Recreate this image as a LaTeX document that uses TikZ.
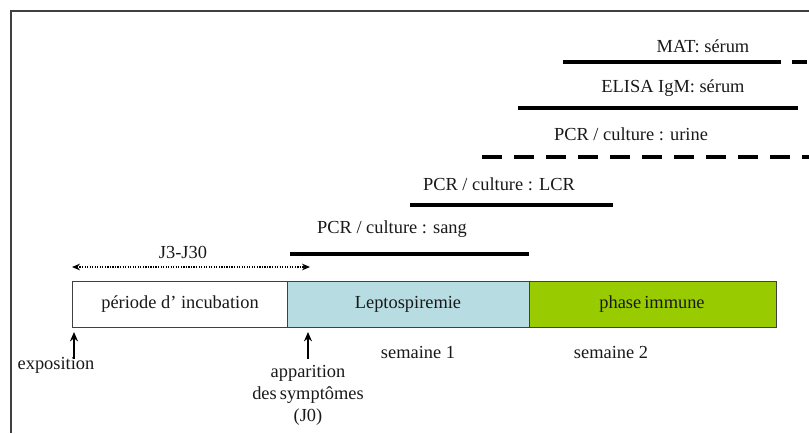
\documentclass[tikz,border=0pt]{standalone}
\usepackage{fontspec}
\setmainfont{Liberation Serif}
\usetikzlibrary{arrows.meta}
\definecolor{lepto}{HTML}{B7DDE3}
\definecolor{immune}{HTML}{99CC00}
\definecolor{edge}{HTML}{404040}
\tikzset{
  lbl/.style={font=\fontsize{13.8}{15}\selectfont, inner sep=0pt, text=black!90},
  phasebox/.style={draw=edge, line width=1pt, minimum height=34.5pt, inner sep=0pt},
  bar/.style={line width=2.3pt, black},
  dashbar/.style={line width=2.3pt, black, dash pattern=on 15pt off 9pt},
  uparrow/.style={line width=1.8pt, -{Stealth[length=7pt,width=6pt]}},
}
\begin{document}
\begin{tikzpicture}[x=0.75pt,y=-0.75pt]
\useasboundingbox (0,0) rectangle (809,433);
% frame
\draw[edge, line width=1.6pt] (11,433) -- (11,11) -- (809,11);
% phase boxes
\node[phasebox, fill=white, minimum width=161.25pt, anchor=north west] (inc) at (72,281) {};
\node[phasebox, fill=lepto, minimum width=181.5pt, anchor=north west] (lep) at (287,281) {};
\node[phasebox, fill=immune, minimum width=185.25pt, anchor=north west] (imm) at (529,281) {};
\node[lbl] (tinc) at (180,304) {période d’ incubation};
\node[lbl] (tlep) at (408,304) {Leptospiremie};
\node[lbl] (timm) at (652,304) {phase\,immune};
% J3-J30
\coordinate (j3a) at (72,267);
\coordinate (j3b) at (310,267);
\draw[densely dotted, line width=0.9pt, {Stealth[length=6pt,width=5pt]}-{Stealth[length=6pt,width=5pt]}] (j3a) -- (j3b);
\node[lbl] (tj3) at (183,252) {J3-J30};
% bars
\coordinate (s1) at (290,254); \coordinate (s2) at (529,254);
\draw[bar] (s1) -- (s2);
\node[lbl] (tsang) at (392,229) {PCR / culture : sang};
\coordinate (l1) at (410,205); \coordinate (l2) at (613,205);
\draw[bar] (l1) -- (l2);
\node[lbl] (tlcr) at (499,184) {PCR / culture : LCR};
\coordinate (u1) at (482,157); \coordinate (u2) at (812,157);
\draw[dashbar] (u1) -- (u2);
\node[lbl] (turine) at (631,134) {PCR / culture : urine};
\coordinate (e1) at (518,108); \coordinate (e2) at (798,108);
\draw[bar] (e1) -- (e2);
\node[lbl] (telisa) at (673,88) {ELISA IgM: sérum};
\coordinate (m1) at (563,62); \coordinate (m2) at (781,62);
\coordinate (m3) at (792,62); \coordinate (m4) at (807,62);
\draw[bar] (m1) -- (m2);
\draw[bar] (m3) -- (m4);
\node[lbl] (tmat) at (703,46) {MAT: sérum};
% arrows up
\node[lbl] (texp) at (56,365) {exposition};
\coordinate (ea) at (74,359); \coordinate (eb) at (74,332);
\draw[uparrow] (ea) -- (eb);
\node[lbl, align=center] (tapp) at (308,395) {apparition\\[1.5pt]des\,symptômes\\[1.5pt](J0)};
\coordinate (aa) at (308,359); \coordinate (ab) at (308,332);
\draw[uparrow] (aa) -- (ab);
\node[lbl] (ts1) at (418,352) {semaine 1};
\node[lbl] (ts2) at (611,352) {semaine 2};
\end{tikzpicture}
\end{document}
